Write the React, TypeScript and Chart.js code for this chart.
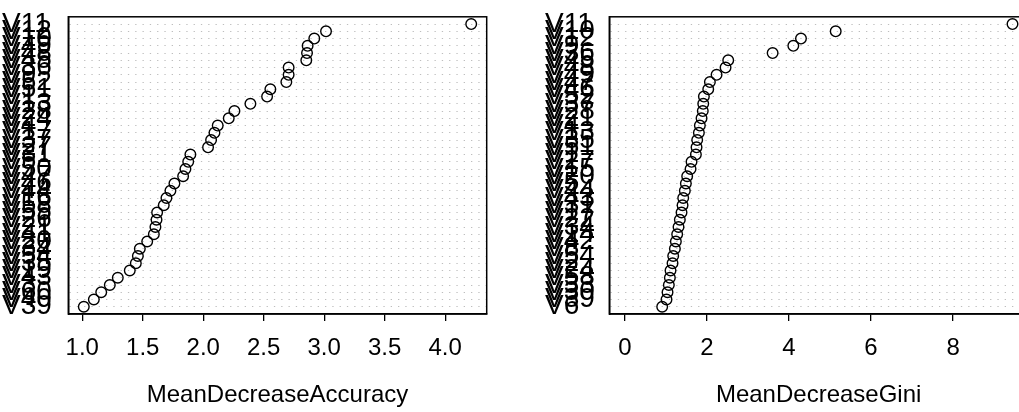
import React, { useEffect, useRef } from "react";
import { Chart, registerables } from "chart.js";
Chart.register(...registerables);

// Variables, listed from top of the dot chart to bottom
const accLabels = ["V11","V12","V10","V49","V48","V45","V36","V9","V52","V51","V1","V13","V28","V24","V4","V17","V37","V27","V31","V5","V50","V47","V46","V44","V16","V58","V55","V26","V21","V41","V20","V34","V54","V35","V19","V43","V3","V60","V40","V39"];
const accValues = [4.215,3.015,2.918,2.863,2.858,2.852,2.706,2.706,2.687,2.555,2.528,2.390,2.258,2.211,2.120,2.093,2.065,2.040,1.894,1.876,1.853,1.834,1.762,1.729,1.696,1.674,1.619,1.614,1.605,1.592,1.537,1.476,1.460,1.443,1.393,1.294,1.228,1.157,1.096,1.013];
const accTicks = [1.0, 1.5, 2.0, 2.5, 3.0, 3.5, 4.0];

const giniLabels = ["V11","V10","V12","V9","V36","V45","V48","V49","V47","V46","V52","V37","V28","V21","V4","V13","V35","V51","V1","V27","V15","V20","V5","V44","V43","V31","V17","V22","V34","V14","V42","V8","V54","V2","V24","V58","V33","V30","V39","V6"];
const giniValues = [9.447,5.139,4.293,4.106,3.602,2.520,2.455,2.236,2.073,2.033,1.927,1.911,1.900,1.870,1.829,1.805,1.764,1.748,1.732,1.626,1.602,1.520,1.488,1.463,1.423,1.407,1.382,1.341,1.309,1.276,1.244,1.220,1.179,1.163,1.114,1.098,1.073,1.041,1.016,0.911];
const giniTicks = [0, 2, 4, 6, 8];

const FONT = "'Liberation Sans', Arial, Helvetica, sans-serif";
const H = 412;

const boxPlugin = {
  id: "box",
  afterDraw(chart: any) {
    const { ctx, chartArea: a } = chart;
    ctx.save();
    ctx.strokeStyle = "#000";
    ctx.lineWidth = 1.5;
    ctx.strokeRect(a.left, a.top, a.right - a.left, a.bottom - a.top);
    ctx.restore();
  },
};

type Geo = { width: number; labelLeft: number; areaLeft: number; areaRight: number; top: number; bottom: number };

function makeConfig(labels: string[], values: number[], xmin: number | null, ticks: number[], decimals: number, title: string, g: Geo) {
  const n = labels.length;
  const lo = xmin === null ? Math.min(...values) : xmin;
  const hi = Math.max(...values);
  const ext = (hi - lo) * 0.04;
  const data = values.map((v, i) => ({ x: v, y: n - i }));
  return {
    type: "scatter",
    data: {
      datasets: [
        {
          data,
          pointStyle: "circle",
          pointRadius: 5.3,
          pointBorderWidth: 1.4,
          pointBorderColor: "#000",
          pointBackgroundColor: "rgba(0,0,0,0)",
          showLine: false,
        },
      ],
    },
    options: {
      animation: false,
      responsive: false,
      devicePixelRatio: 1,
      layout: { padding: { left: g.labelLeft, right: g.width - g.areaRight, top: g.top, bottom: 0 } },
      plugins: { legend: { display: false }, tooltip: { enabled: false } },
      scales: {
        x: {
          type: "linear",
          min: lo - ext,
          max: hi + ext,
          afterBuildTicks: (s: any) => { s.ticks = ticks.map((v) => ({ value: v })); },
          afterFit: (s: any) => { s.height = H - g.bottom; },
          ticks: {
            color: "#000",
            font: { family: FONT, size: 24 },
            padding: 12.5,
            maxRotation: 0,
            autoSkip: false,
            callback: (v: any) => Number(v).toFixed(decimals),
          },
          grid: { drawOnChartArea: false, drawTicks: true, tickLength: 7, color: "#000", lineWidth: 1.3 },
          border: { display: true, color: "#000", width: 1.5 },
          title: { display: true, text: title, color: "#000", font: { family: FONT, size: 24 }, padding: { top: 0, bottom: 2 } },
        },
        y: {
          type: "linear",
          min: 0,
          max: n + 1,
          afterBuildTicks: (s: any) => { s.ticks = labels.map((_, i) => ({ value: n - i })); },
          afterFit: (s: any) => { s.width = g.areaLeft - g.labelLeft; },
          ticks: {
            color: "#000",
            font: { family: FONT, size: 28 },
            autoSkip: false,
            crossAlign: "far",
            padding: 0,
            callback: (v: any) => labels[n - Number(v)] ?? "",
          },
          grid: { drawTicks: false, color: "#BEBEBE", lineWidth: 1 },
          border: { display: true, color: "#000", width: 1.5, dash: [1.3, 6] },
        },
      },
    },
    plugins: [boxPlugin],
  } as any;
}

function Panel({ cfg, left, width }: { cfg: any; left: number; width: number }) {
  const ref = useRef<HTMLCanvasElement | null>(null);
  useEffect(() => {
    if (!ref.current) return;
    const chart = new Chart(ref.current, cfg);
    return () => chart.destroy();
  }, [cfg]);
  return (
    <canvas
      ref={ref}
      width={width}
      height={H}
      style={{ position: "absolute", left, top: 0, width, height: H, display: "block" }}
    />
  );
}

const leftCfg = makeConfig(accLabels, accValues, null, accTicks, 1, "MeanDecreaseAccuracy", {
  width: 510, labelLeft: 2, areaLeft: 68.3, areaRight: 486.7, top: 5, bottom: 314,
});
const rightCfg = makeConfig(giniLabels, giniValues, 0, giniTicks, 0, "MeanDecreaseGini", {
  width: 540, labelLeft: 35, areaLeft: 99.3, areaRight: 518, top: 5, bottom: 314,
});

export default function App() {
  return (
    <div style={{ position: "fixed", left: 0, top: 0, width: 1019, height: H, overflow: "hidden", background: "#fff" }}>
      <Panel cfg={leftCfg} left={0} width={510} />
      <Panel cfg={rightCfg} left={510} width={540} />
    </div>
  );
}
